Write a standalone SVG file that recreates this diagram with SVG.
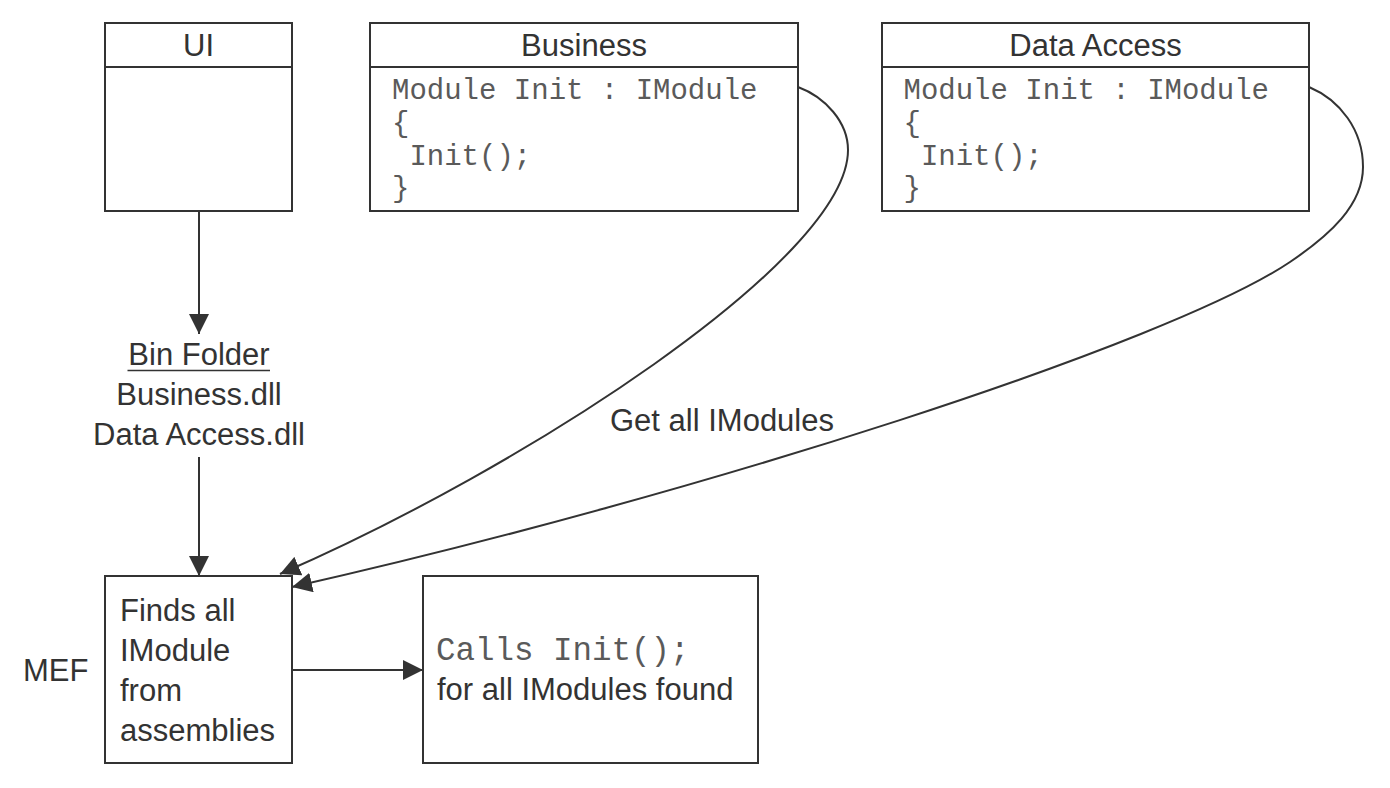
<svg xmlns="http://www.w3.org/2000/svg" width="1390" height="788" viewBox="0 0 1390 788">
<style>
.box{fill:#fff;stroke:#333;stroke-width:2}
.ln{stroke:#333;stroke-width:2;fill:none}
.sans{font-family:"Liberation Sans",Arial,sans-serif;font-size:31px;fill:#333}
.mid{text-anchor:middle}
.mono{font-family:"Liberation Mono","Courier New",monospace;font-size:29px;fill:#5a5a5a}
.conn{stroke:#333;stroke-width:2;fill:none;marker-end:url(#ah)}
</style>
<defs>
<marker id="ah" viewBox="0 0 20 20" refX="20" refY="10" markerWidth="20" markerHeight="20" markerUnits="userSpaceOnUse" orient="auto">
<path d="M0,0 L20,10 L0,20 z" fill="#333"/>
</marker>
</defs>
<rect width="1390" height="788" fill="#fff"/>
<g id="ui">
<rect class="box" x="105" y="23" width="187" height="188"/>
<line class="ln" x1="105" y1="67" x2="292" y2="67"/>
<text class="sans mid" x="198.5" y="56">UI</text>
</g>
<g id="business">
<rect class="box" x="370" y="23" width="428" height="188"/>
<line class="ln" x1="370" y1="67" x2="798" y2="67"/>
<text class="sans mid" x="584" y="56">Business</text>
<text class="mono" x="392" y="98.5">Module Init : IModule</text>
<text class="mono" x="392" y="131.5">{</text>
<text class="mono" x="409.4" y="164.5">Init();</text>
<text class="mono" x="392" y="196.5">}</text>
</g>
<g id="data-access">
<rect class="box" x="882" y="23" width="427" height="188"/>
<line class="ln" x1="882" y1="67" x2="1309" y2="67"/>
<text class="sans mid" x="1095.5" y="56">Data Access</text>
<text class="mono" x="903.5" y="98.5">Module Init : IModule</text>
<text class="mono" x="903.5" y="131.5">{</text>
<text class="mono" x="920.9" y="164.5">Init();</text>
<text class="mono" x="903.5" y="196.5">}</text>
</g>
<g id="bin-folder">
<text class="sans mid" x="199" y="365">Bin Folder</text>
<line class="ln" x1="127.5" y1="370.5" x2="270" y2="370.5" style="stroke-width:1.6"/>
<text class="sans mid" x="199" y="405">Business.dll</text>
<text class="sans mid" x="199" y="445">Data Access.dll</text>
</g>
<g id="mef">
<text class="sans" x="23" y="681">MEF</text>
<rect class="box" x="105" y="576" width="187" height="187"/>
<text class="sans" x="120" y="621">Finds all</text>
<text class="sans" x="120" y="661">IModule</text>
<text class="sans" x="120" y="701">from</text>
<text class="sans" x="120" y="741">assemblies</text>
</g>
<g id="calls">
<rect class="box" x="423" y="576" width="335" height="187"/>
<text class="mono" x="436" y="660" style="font-size:32.5px">Calls Init();</text>
<text class="sans" x="437" y="700">for all IModules found</text>
</g>
<g id="connectors">
<line class="conn" x1="199" y1="211" x2="199" y2="334"/>
<line class="conn" x1="199" y1="457" x2="199" y2="576"/>
<line class="conn" x1="292" y1="670" x2="423" y2="670"/>
<path class="conn" d="M798,87 C825,97 848,122 848,150 C848,260 520,470 280,574"/>
<path class="conn" d="M1309,87 C1340,100 1363,130 1363,167 C1363,205 1330,235 1290,262 C1170,343 700,495 292,587"/>
<text class="sans" x="610" y="431">Get all IModules</text>
</g>
</svg>
